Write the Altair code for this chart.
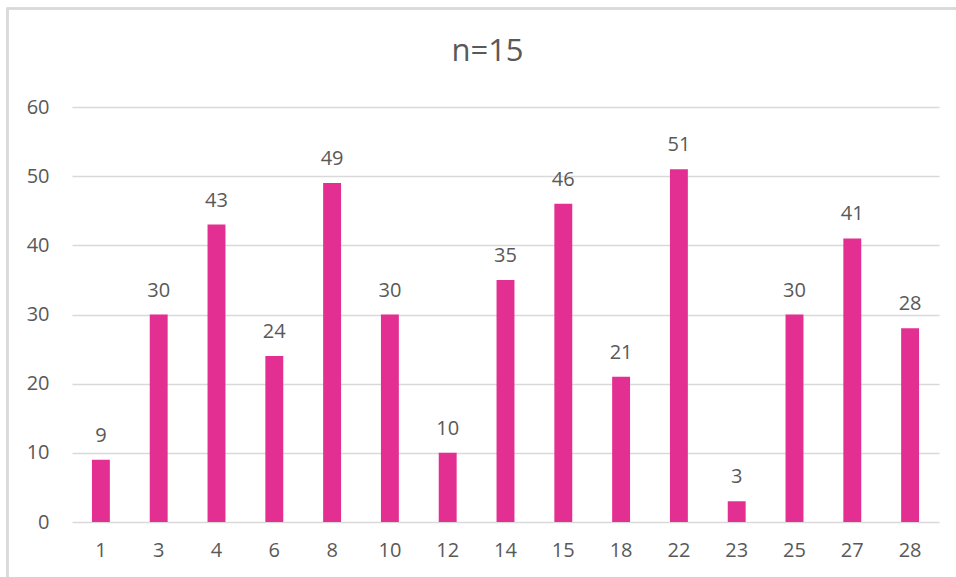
import altair as alt
import pandas as pd

# Category labels along the x axis and the count for each
categories = ["1", "3", "4", "6", "8", "10", "12", "14", "15", "18", "22", "23", "25", "27", "28"]
counts = [9, 30, 43, 24, 49, 30, 10, 35, 46, 21, 51, 3, 30, 41, 28]
title_text = "n=15"

df = pd.DataFrame({"category": categories, "count": counts})

FONT = "Open Sans"
TEXT_COLOR = "#595959"
BAR_COLOR = "#E32F92"
GRID_COLOR = "#D9D9D9"

x_enc = alt.X(
    "category:N",
    sort=categories,
    scale=alt.Scale(paddingInner=0.69, paddingOuter=0.345),
    axis=alt.Axis(
        title=None,
        domain=False,
        ticks=False,
        labelAngle=0,
        labelPadding=18,
        labelFontSize=20,
        labelColor=TEXT_COLOR,
        labelFont=FONT,
        grid=False,
    ),
)
y_enc = alt.Y(
    "count:Q",
    scale=alt.Scale(domain=[0, 60]),
    axis=alt.Axis(
        title=None,
        values=[0, 10, 20, 30, 40, 50, 60],
        domain=False,
        ticks=False,
        labelPadding=23,
        labelFontSize=20,
        labelColor=TEXT_COLOR,
        labelFont=FONT,
        grid=True,
        gridColor=GRID_COLOR,
        gridWidth=1.5,
    ),
)

bars = alt.Chart(df).mark_bar(color=BAR_COLOR).encode(x=x_enc, y=y_enc)

labels = alt.Chart(df).mark_text(
    baseline="alphabetic",
    dy=-18,
    fontSize=20,
    font=FONT,
    color=TEXT_COLOR,
).encode(x=alt.X("category:N", sort=categories), y="count:Q", text="count:Q")

# Light frame around the whole chart area
frame = alt.Chart(df).mark_rect(
    fill=None, stroke=GRID_COLOR, strokeWidth=1.5, clip=False
).encode(
    x=alt.value(-64.5),
    x2=alt.value(920),
    y=alt.value(-98.5),
    y2=alt.value(520),
)

chart = (
    alt.layer(frame, bars, labels)
    .properties(
        width=867,
        height=415,
        title=alt.TitleParams(
            title_text,
            anchor="middle",
            fontSize=31,
            font=FONT,
            fontWeight="normal",
            color=TEXT_COLOR,
            dx=-18,
            offset=-60,
        ),
        autosize=alt.AutoSizeParams(type="none"),
        padding={"left": 72, "top": 107, "right": 17, "bottom": 55},
    )
    .configure(background="white", view=alt.ViewConfig(stroke=None))
)

chart.save("out.html", embed_options={"renderer": "svg", "actions": False})
